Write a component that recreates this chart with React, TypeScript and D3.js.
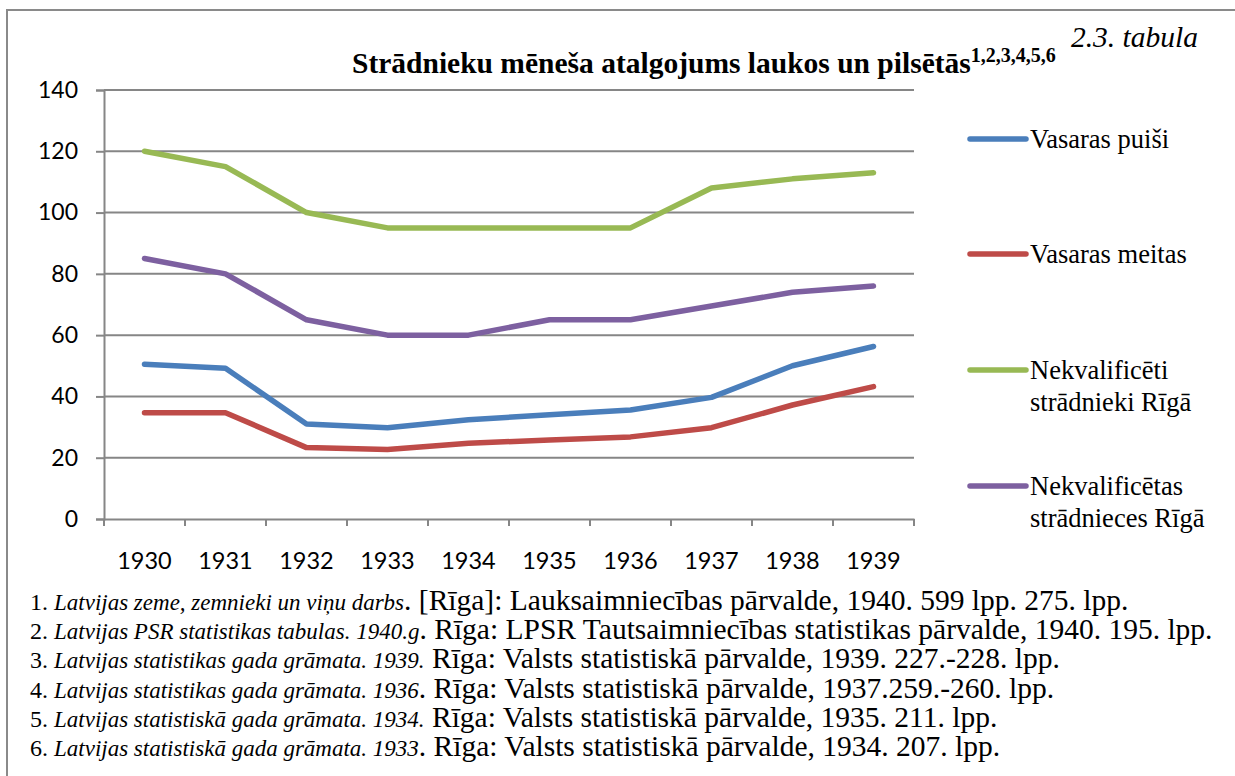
import React, { useEffect, useRef } from "react";
import * as d3 from "d3";

const years = ["1930", "1931", "1932", "1933", "1934", "1935", "1936", "1937", "1938", "1939"];

const vasarasPuisi = [50.5, 49.2, 31.0, 29.8, 32.4, 34.0, 35.6, 39.7, 50.0, 56.3];
const vasarasMeitas = [34.7, 34.7, 23.3, 22.7, 24.7, 25.8, 26.8, 29.8, 37.2, 43.2];
const nekvalStradnieki = [120, 115, 100, 95, 95, 95, 95, 108, 111, 113];
const nekvalStradnieces = [85, 80, 65, 60, 60, 65, 65, 69.5, 74, 76];

const yTicks = [0, 20, 40, 60, 80, 100, 120, 140];

const seriesNames = [
  ["Vasaras puiši"],
  ["Vasaras meitas"],
  ["Nekvalificēti", "strādnieki Rīgā"],
  ["Nekvalificētas", "strādnieces Rīgā"],
];
const seriesColors = ["#4a7ebb", "#be4b48", "#98b954", "#7d60a0"];

// footnotes: [number, italic part, plain part]
const footnotes = [
  ["1. ", "Latvijas zeme, zemnieki un viņu darbs", ". [Rīga]: Lauksaimniecības pārvalde, 1940. 599 lpp. 275. lpp."],
  ["2. ", "Latvijas PSR statistikas tabulas. 1940.g", ". Rīga: LPSR Tautsaimniecības statistikas pārvalde, 1940. 195. lpp."],
  ["3. ", "Latvijas statistikas gada grāmata. 1939.", " Rīga: Valsts statistiskā pārvalde, 1939. 227.-228. lpp."],
  ["4. ", "Latvijas statistikas gada grāmata. 1936", ". Rīga: Valsts statistiskā pārvalde, 1937.259.-260. lpp."],
  ["5. ", "Latvijas statistiskā gada grāmata. 1934.", " Rīga: Valsts statistiskā pārvalde, 1935. 211. lpp."],
  ["6. ", "Latvijas statistiskā gada grāmata. 1933", ". Rīga: Valsts statistiskā pārvalde, 1934. 207. lpp."],
];

const W = 1235;
const H = 776;
const serif = "'Liberation Serif', 'Times New Roman', serif";
const sans = "Lato, 'Open Sans', sans-serif";
const grid = "#868686";

export default function App() {
  const svgRef = useRef<SVGSVGElement | null>(null);

  useEffect(() => {
    const svg = d3.select(svgRef.current);
    svg.selectAll("*").remove();

    const left = 104;
    const right = 914;
    const top = 90;
    const bottom = 519;

    const x = d3.scaleBand().domain(years).range([left, right]);
    const y = d3.scaleLinear().domain([0, 140]).range([bottom, top]);

    // outer frame
    svg
      .append("rect")
      .attr("x", 7)
      .attr("y", 10)
      .attr("width", W + 20)
      .attr("height", H + 20)
      .attr("fill", "none")
      .attr("stroke", "#8a8a8a")
      .attr("stroke-width", 2);

    // title
    const title = svg
      .append("text")
      .attr("x", 352)
      .attr("y", 73)
      .attr("font-family", serif)
      .attr("font-weight", "bold")
      .attr("font-size", 29.5)
      .attr("fill", "#000");
    title.append("tspan").text("Strādnieku mēneša atalgojums laukos un pilsētās");
    title.append("tspan").attr("dy", -11).attr("font-size", 20).text("1,2,3,4,5,6");

    svg
      .append("text")
      .attr("x", 1198)
      .attr("y", 47)
      .attr("text-anchor", "end")
      .attr("font-family", serif)
      .attr("font-style", "italic")
      .attr("font-size", 29.5)
      .text("2.3. tabula");

    // gridlines
    svg
      .append("g")
      .selectAll("line")
      .data(yTicks.filter((t) => t > 0))
      .join("line")
      .attr("x1", left)
      .attr("x2", right)
      .attr("y1", (d) => y(d))
      .attr("y2", (d) => y(d))
      .attr("stroke", grid)
      .attr("stroke-width", 2);

    // y axis
    const yAxis = svg
      .append("g")
      .attr("transform", `translate(${left},0)`)
      .call(d3.axisLeft(y).tickValues(yTicks).tickSize(8).tickPadding(18));
    yAxis.select(".domain").attr("stroke", grid).attr("stroke-width", 2);
    yAxis.selectAll(".tick line").attr("stroke", grid).attr("stroke-width", 2);
    yAxis
      .selectAll(".tick text")
      .attr("font-family", sans)
      .attr("font-size", 23)
      .attr("fill", "#000");

    // x axis
    const xAxis = svg
      .append("g")
      .attr("transform", `translate(0,${bottom})`)
      .call(d3.axisBottom(x).tickSize(0).tickPadding(33));
    xAxis.select(".domain").attr("stroke", grid).attr("stroke-width", 2);
    xAxis.selectAll(".tick line").remove();
    xAxis
      .selectAll(".tick text")
      .attr("font-family", sans)
      .attr("font-size", 23.5)
      .attr("fill", "#000");
    // boundary ticks between categories
    const bounds = years.map((d) => x(d) as number).concat([right]);
    svg
      .append("g")
      .selectAll("line")
      .data(bounds)
      .join("line")
      .attr("x1", (d) => d)
      .attr("x2", (d) => d)
      .attr("y1", bottom)
      .attr("y2", bottom + 7)
      .attr("stroke", grid)
      .attr("stroke-width", 2);

    // lines
    const allSeries = [vasarasPuisi, vasarasMeitas, nekvalStradnieki, nekvalStradnieces];
    const line = d3
      .line<number>()
      .x((_, i) => (x(years[i]) as number) + x.bandwidth() / 2)
      .y((d) => y(d));
    svg
      .append("g")
      .selectAll("path")
      .data(allSeries)
      .join("path")
      .attr("d", (d) => line(d))
      .attr("fill", "none")
      .attr("stroke", (_, i) => seriesColors[i])
      .attr("stroke-width", 5.5)
      .attr("stroke-linecap", "round")
      .attr("stroke-linejoin", "round");

    // legend
    const legendY = [139, 254, 370, 486];
    const legend = svg
      .append("g")
      .selectAll("g")
      .data(seriesNames)
      .join("g")
      .attr("transform", (_, i) => `translate(970,${legendY[i]})`);
    legend
      .append("line")
      .attr("x1", 0)
      .attr("x2", 56)
      .attr("stroke", (_, i) => seriesColors[i])
      .attr("stroke-width", 5.5)
      .attr("stroke-linecap", "round");
    legend
      .append("text")
      .attr("font-family", serif)
      .attr("font-size", 26.5)
      .attr("fill", "#000")
      .selectAll("tspan")
      .data((d) => d)
      .join("tspan")
      .attr("x", 60)
      .attr("y", (_, j) => 9 + j * 32)
      .text((d) => d);

    // footnotes: one text per line, narrower number and italic title
    const notes = svg
      .append("g")
      .selectAll("text")
      .data(footnotes)
      .join("text")
      .attr("x", 30)
      .attr("y", (_, i) => 610 + i * 29.2)
      .attr("font-family", serif)
      .attr("font-size", 29.5)
      .attr("fill", "#000");
    notes.append("tspan").attr("font-size", 24).text((d) => d[0]);
    notes.append("tspan").attr("font-style", "italic").attr("font-size", 23).text((d) => d[1]);
    notes.append("tspan").text((d) => d[2]);
  }, []);

  return (
    <svg
      ref={svgRef}
      width={W}
      height={H}
      style={{ position: "absolute", left: 0, top: 0, background: "#fff" }}
    />
  );
}
